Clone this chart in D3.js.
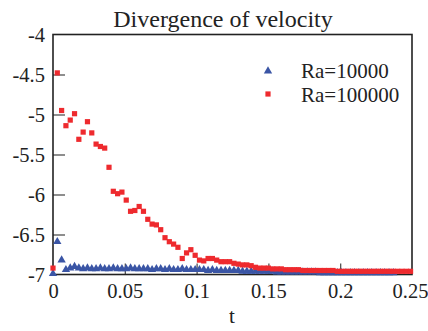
<!DOCTYPE html>
<html>
<head>
<meta charset="utf-8">
<script src="https://cdn.jsdelivr.net/npm/d3@7"></script>
<style>
  body { margin: 0; background: #fff; }
  svg text { font-family: "Liberation Serif", "DejaVu Serif", serif; fill: #222; }
</style>
</head>
<body>
<div id="chart"></div>
<script>
// time samples (dt = 0.003)
var times = [0, 0.003, 0.006, 0.009, 0.012, 0.015, 0.018, 0.021, 0.024, 0.027,
  0.030, 0.033, 0.036, 0.039, 0.042, 0.045, 0.048, 0.051, 0.054, 0.057,
  0.060, 0.063, 0.066, 0.069, 0.072, 0.075, 0.078, 0.081, 0.084, 0.087,
  0.090, 0.093, 0.096, 0.099, 0.102, 0.105, 0.108, 0.111, 0.114, 0.117,
  0.120, 0.123, 0.126, 0.129, 0.132, 0.135, 0.138, 0.141, 0.144, 0.147,
  0.150, 0.153, 0.156, 0.159, 0.162, 0.165, 0.168, 0.171, 0.174, 0.177,
  0.180, 0.183, 0.186, 0.189, 0.192, 0.195, 0.198, 0.201, 0.204, 0.207,
  0.210, 0.213, 0.216, 0.219, 0.222, 0.225, 0.228, 0.231, 0.234, 0.237,
  0.240, 0.243, 0.246, 0.249];

// Ra=10000 (blue triangles)
var ra1e4 = [-6.99, -6.59, -6.82, -6.94, -6.92, -6.90, -6.92, -6.93, -6.92, -6.93,
  -6.93, -6.92, -6.93, -6.93, -6.92, -6.93, -6.93, -6.93, -6.92, -6.93,
  -6.93, -6.93, -6.93, -6.94, -6.93, -6.93, -6.94, -6.93, -6.94, -6.94,
  -6.93, -6.94, -6.94, -6.94, -6.94, -6.94, -6.95, -6.94, -6.95, -6.95,
  -6.95, -6.95, -6.95, -6.95, -6.96, -6.96, -6.96, -6.96, -6.96, -6.96,
  -6.96, -6.96, -6.97, -6.97, -6.97, -6.97, -6.97, -6.97, -6.97, -6.97,
  -6.97, -6.97, -6.98, -6.98, -6.98, -6.98, -6.98, -6.98, -6.98, -6.98,
  -6.98, -6.98, -6.98, -6.98, -6.98, -6.98, -6.98, -6.98, -6.98, -6.98];

// Ra=100000 (red squares)
var ra1e5 = [-6.92, -4.48, -4.95, -5.14, -5.07, -4.99, -5.31, -5.22, -5.09, -5.23,
  -5.37, -5.40, -5.42, -5.66, -5.96, -5.99, -5.97, -6.07, -6.21, -6.20,
  -6.15, -6.21, -6.31, -6.37, -6.38, -6.44, -6.54, -6.59, -6.62, -6.66,
  -6.80, -6.73, -6.69, -6.76, -6.82, -6.83, -6.80, -6.80, -6.82, -6.84,
  -6.84, -6.84, -6.86, -6.87, -6.88, -6.88, -6.89, -6.91, -6.92, -6.92,
  -6.92, -6.93, -6.93, -6.93, -6.94, -6.94, -6.94, -6.94, -6.95, -6.95,
  -6.95, -6.95, -6.95, -6.95, -6.95, -6.95, -6.96, -6.96, -6.96, -6.96,
  -6.96, -6.96, -6.96, -6.96, -6.96, -6.96, -6.96, -6.96, -6.96, -6.96,
  -6.96, -6.96, -6.96, -6.96];

var xTicks = [0, 0.05, 0.1, 0.15, 0.2, 0.25];
var yTicks = [-7, -6.5, -6, -5.5, -5, -4.5, -4];
var seriesNames = ["Ra=10000", "Ra=100000"];
var seriesColors = ["#3a55a5", "#ee2a2e"];

var width = 428, height = 331;
var plotL = 53, plotR = 412, plotT = 34.5, plotB = 274.5;
var serif = "'Liberation Serif', 'DejaVu Serif', serif";

var svg = d3.select("#chart").append("svg")
    .attr("width", width)
    .attr("height", height);

var x = d3.scaleLinear().domain([0, 0.25]).range([plotL, plotR]);
var y = d3.scaleLinear().domain([-7, -4]).range([plotB, plotT]);

// axes with inward ticks
var xAxis = svg.append("g")
    .attr("transform", "translate(0," + plotB + ")")
    .call(d3.axisBottom(x).tickValues(xTicks).tickSize(-11).tickPadding(9)
        .tickFormat(function(d) { return String(d); }));
var yAxis = svg.append("g")
    .attr("transform", "translate(" + plotL + ",0)")
    .call(d3.axisLeft(y).tickValues(yTicks).tickSize(-12).tickPadding(8)
        .tickFormat(function(d) { return String(d); }));

[xAxis, yAxis].forEach(function(g) {
    g.attr("font-family", serif).attr("font-size", 20.5);
    g.select(".domain").remove();
    g.selectAll(".tick line").attr("stroke", "#444").attr("stroke-width", 1.2);
    g.selectAll(".tick text").attr("fill", "#222");
});
// no inner tick at the frame edges
xAxis.selectAll(".tick line").filter(function(d) { return d === 0 || d === 0.25; }).remove();
yAxis.selectAll(".tick line").filter(function(d) { return d === -7 || d === -4; }).remove();
yAxis.selectAll(".tick text").attr("dy", "0.36em");
// keep the last label inside the page
xAxis.selectAll(".tick text").filter(function(d) { return d === 0.25; }).attr("dx", -2);

// frame
svg.append("rect")
    .attr("x", plotL)
    .attr("y", plotT)
    .attr("width", plotR - plotL)
    .attr("height", plotB - plotT)
    .attr("fill", "none")
    .attr("stroke", "#222")
    .attr("stroke-width", 1.6);

var tri = d3.symbol().type(d3.symbolTriangle).size(30);

// Ra=10000 triangles
svg.append("g").selectAll("path")
    .data(ra1e4)
    .enter()
    .append("path")
    .attr("d", tri)
    .attr("transform", function(d, i) { return "translate(" + x(times[i]) + "," + y(d) + ")"; })
    .attr("fill", seriesColors[0]);

// Ra=100000 squares
var sq = 5.2;
svg.append("g").selectAll("rect")
    .data(ra1e5)
    .enter()
    .append("rect")
    .attr("x", function(d, i) { return x(times[i]) - sq / 2; })
    .attr("y", function(d) { return y(d) - sq / 2; })
    .attr("width", sq)
    .attr("height", sq)
    .attr("fill", seriesColors[1]);

// legend
var leg = svg.append("g");
leg.append("path")
    .attr("d", tri)
    .attr("transform", "translate(268,71)")
    .attr("fill", seriesColors[0]);
leg.append("rect")
    .attr("x", 268 - sq / 2).attr("y", 94 - sq / 2)
    .attr("width", sq).attr("height", sq)
    .attr("fill", seriesColors[1]);
leg.selectAll("text")
    .data(seriesNames)
    .enter()
    .append("text")
    .attr("x", 301)
    .attr("y", function(d, i) { return 78 + i * 24; })
    .style("font-size", "21px")
    .text(function(d) { return d; });

// title and x label
svg.append("text")
    .attr("x", 223)
    .attr("y", 27)
    .attr("text-anchor", "middle")
    .style("font-size", "24px")
    .text("Divergence of velocity");
svg.append("text")
    .attr("x", 232)
    .attr("y", 323)
    .attr("text-anchor", "middle")
    .style("font-size", "21px")
    .text("t");
</script>
</body>
</html>
